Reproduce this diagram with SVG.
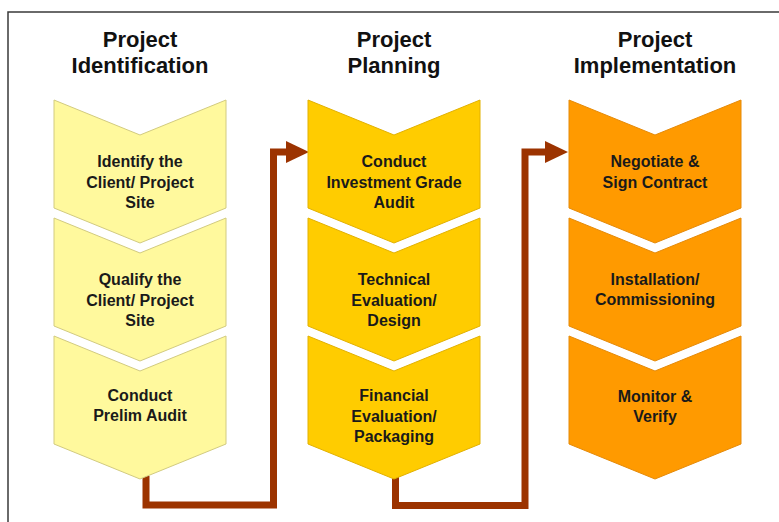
<svg xmlns="http://www.w3.org/2000/svg" width="779" height="522" viewBox="0 0 779 522">
  <style>
    .title { font-family: "Liberation Sans", Arial, sans-serif; font-weight: bold; font-size: 22px; fill: #111; text-anchor: middle; }
    .label { font-family: "Liberation Sans", Arial, sans-serif; font-weight: bold; font-size: 16px; fill: #1a1a1a; text-anchor: middle; }
    .c1 { fill: #FFF99D; stroke: #D2CB80; stroke-width: 1; }
    .c2 { fill: #FFCC00; stroke: #E2B100; stroke-width: 1; }
    .c3 { fill: #FF9A00; stroke: #E58A08; stroke-width: 1; }
    .flow { fill: none; stroke: #9C3300; stroke-width: 7; stroke-linejoin: miter; }
  </style>
  <defs>
    <!-- chevron pointing down: 172 wide, 108 side height, 35 notch/point depth -->
    <path id="chev" d="M0,0 L86,35 L172,0 L172,108 L86,143 L0,108 Z"/>
    <marker id="head" markerUnits="userSpaceOnUse" markerWidth="24" markerHeight="24" refX="2" refY="11" orient="auto">
      <path d="M0,0 L23,11 L0,22 Z" fill="#9C3300"/>
    </marker>
  </defs>

  <rect width="779" height="522" fill="#fff"/>
  <!-- frame: top and left edges -->
  <path d="M8,523 V12 H780" fill="none" stroke="#3a3a3a" stroke-width="1.5"/>

  <!-- column headings -->
  <text class="title" x="140" y="47">Project<tspan x="140" y="73">Identification</tspan></text>
  <text class="title" x="394" y="47">Project<tspan x="394" y="73">Planning</tspan></text>
  <text class="title" x="655" y="47">Project<tspan x="655" y="73">Implementation</tspan></text>

  <!-- connectors -->
  <g id="connectors">
    <path class="flow" d="M146,476 V505 H273.5 V152 H288" marker-end="url(#head)"/>
    <path class="flow" d="M395.5,476 V505.5 H525 V152 H547" marker-end="url(#head)"/>
  </g>

  <!-- Project Identification -->
  <g id="identify-site">
    <use href="#chev" class="c1" x="54" y="100"/>
    <text class="label" x="140" y="167">Identify the<tspan x="140" y="188">Client/ Project</tspan><tspan x="140" y="208">Site</tspan></text>
  </g>
  <g id="qualify-site">
    <use href="#chev" class="c1" x="54" y="218"/>
    <text class="label" x="140" y="285">Qualify the<tspan x="140" y="306">Client/ Project</tspan><tspan x="140" y="326">Site</tspan></text>
  </g>
  <g id="prelim-audit">
    <use href="#chev" class="c1" x="54" y="336"/>
    <text class="label" x="140" y="401">Conduct<tspan x="140" y="421">Prelim Audit</tspan></text>
  </g>

  <!-- Project Planning -->
  <g id="investment-audit">
    <use href="#chev" class="c2" x="308" y="100"/>
    <text class="label" x="394" y="167">Conduct<tspan x="394" y="188">Investment Grade</tspan><tspan x="394" y="208">Audit</tspan></text>
  </g>
  <g id="technical-evaluation">
    <use href="#chev" class="c2" x="308" y="218"/>
    <text class="label" x="394" y="285">Technical<tspan x="394" y="306">Evaluation/</tspan><tspan x="394" y="326">Design</tspan></text>
  </g>
  <g id="financial-evaluation">
    <use href="#chev" class="c2" x="308" y="336"/>
    <text class="label" x="394" y="401">Financial<tspan x="394" y="422">Evaluation/</tspan><tspan x="394" y="442">Packaging</tspan></text>
  </g>

  <!-- Project Implementation -->
  <g id="sign-contract">
    <use href="#chev" class="c3" x="569" y="100"/>
    <text class="label" x="655" y="167">Negotiate &amp;<tspan x="655" y="188">Sign Contract</tspan></text>
  </g>
  <g id="installation">
    <use href="#chev" class="c3" x="569" y="218"/>
    <text class="label" x="655" y="285">Installation/<tspan x="655" y="305">Commissioning</tspan></text>
  </g>
  <g id="monitor-verify">
    <use href="#chev" class="c3" x="569" y="336"/>
    <text class="label" x="655" y="402">Monitor &amp;<tspan x="655" y="422">Verify</tspan></text>
  </g>
</svg>
